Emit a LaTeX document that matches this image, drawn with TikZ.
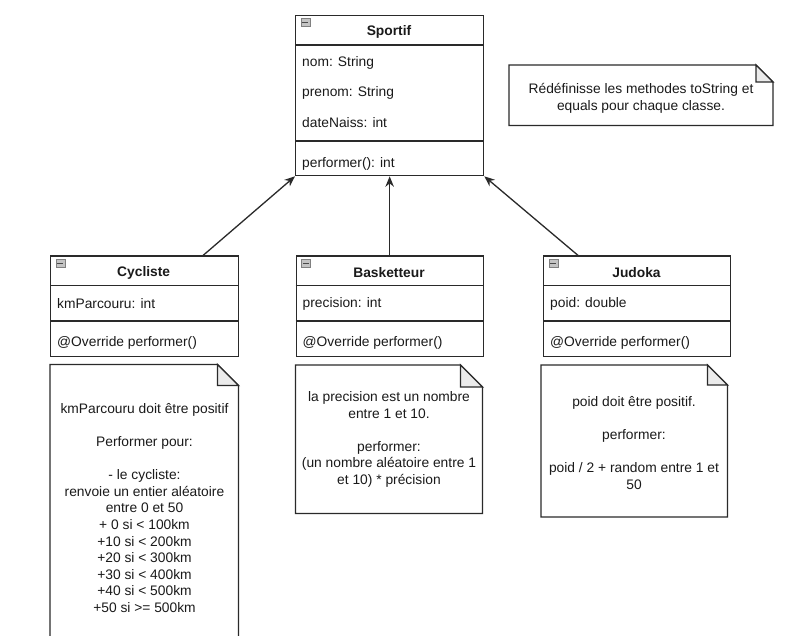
\documentclass[tikz,border=0pt]{standalone}
\usepackage{fontspec}
\setmainfont{Liberation Sans}
\usetikzlibrary{arrows.meta,calc}
\definecolor{linec}{HTML}{2A2A2A}
\definecolor{txtc}{HTML}{1A1A1A}
\definecolor{foldc}{HTML}{EBEBEB}
\definecolor{iconc}{HTML}{C4C4C4}
\tikzset{
  txt/.style={text=txtc, font=\fontsize{13.8}{16.6}\selectfont, inner sep=0pt},
  ttl/.style={text=txtc, font=\fontsize{13.8}{16.6}\selectfont\bfseries, inner sep=0pt},
  ntxt/.style={text=txtc, font=\fontsize{13.8}{16.6}\selectfont, inner sep=0pt, align=center},
  classbox/.style={draw=linec, line width=1.3pt, fill=white, anchor=north west, inner sep=0pt},
  sepline/.style={draw=linec, line width=1.3pt},
  noteline/.style={draw=linec, line width=1.3pt},
  icon/.style={draw=gray, fill=iconc, line width=0.7pt, minimum width=9pt, minimum height=8pt, anchor=north west, inner sep=0pt},
  iconbar/.style={draw=linec!85, line width=1.1pt},
  inherit/.style={draw=linec, line width=1.3pt, -{Stealth[length=10.5pt,width=8.5pt]}}
}
\newcommand{\mynote}[5]{%
  \draw[noteline, fill=white] (#1,#2) -- (#3-#5,#2) -- (#3,#2+#5) -- (#3,#4) -- (#1,#4) -- cycle;
  \draw[noteline, fill=foldc] (#3-#5,#2) -- (#3-#5,#2+#5) -- (#3,#2+#5) -- cycle;
}
\begin{document}
\begin{tikzpicture}[x=1pt,y=-1pt]
\useasboundingbox (0,0) rectangle (800,636);
\fill[white] (0,0) rectangle (800,636);
\clip (0,0) rectangle (800,636);

% ---------- Sportif ----------
\node[classbox, minimum width=188pt, minimum height=160pt] (sportif) at (295,15) {};
\draw[sepline] ($(sportif.north west)+(0,30)$) -- ($(sportif.north east)+(0,30)$);
\draw[sepline] ($(sportif.north west)+(0,126)$) -- ($(sportif.north east)+(0,126)$);
\node[icon] (icS) at (300.5,18.5) {};
\draw[iconbar] ([xshift=1.8pt]icS.west) -- ([xshift=-1.8pt]icS.east);
\node[ttl] (tS) at (389,32) {Sportif};
\node[txt, anchor=west] (aS1) at (302,63) {nom: String};
\node[txt, anchor=west] (aS2) at (302,93) {prenom: String};
\node[txt, anchor=west] (aS3) at (302,123) {dateNaiss: int};
\node[txt, anchor=west] (mS1) at (302,163.5) {performer(): int};

% ---------- Cycliste ----------
\node[classbox, minimum width=187.5pt, minimum height=100.5pt] (cyc) at (50,255.5) {};
\draw[sepline] ($(cyc.north west)+(0,30)$) -- ($(cyc.north east)+(0,30)$);
\draw[sepline] ($(cyc.north west)+(0,65.5)$) -- ($(cyc.north east)+(0,65.5)$);
\node[icon] (icC) at (55.5,259.5) {};
\draw[iconbar] ([xshift=1.8pt]icC.west) -- ([xshift=-1.8pt]icC.east);
\node[ttl] (tC) at (143.7,272.5) {Cycliste};
\node[txt, anchor=west] (aC1) at (57,304) {kmParcouru: int};
\node[txt, anchor=west] (mC1) at (57,343) {@Override performer()};

% ---------- Basketteur ----------
\node[classbox, minimum width=187pt, minimum height=100.5pt] (bask) at (295.5,255.5) {};
\draw[sepline] ($(bask.north west)+(0,30)$) -- ($(bask.north east)+(0,30)$);
\draw[sepline] ($(bask.north west)+(0,65.5)$) -- ($(bask.north east)+(0,65.5)$);
\node[icon] (icB) at (301,259.5) {};
\draw[iconbar] ([xshift=1.8pt]icB.west) -- ([xshift=-1.8pt]icB.east);
\node[ttl] (tB) at (389,272.5) {Basketteur};
\node[txt, anchor=west] (aB1) at (302.5,304) {precision: int};
\node[txt, anchor=west] (mB1) at (302.5,343) {@Override performer()};

% ---------- Judoka ----------
\node[classbox, minimum width=187pt, minimum height=100.5pt] (judo) at (543,255.5) {};
\draw[sepline] ($(judo.north west)+(0,30)$) -- ($(judo.north east)+(0,30)$);
\draw[sepline] ($(judo.north west)+(0,65.5)$) -- ($(judo.north east)+(0,65.5)$);
\node[icon] (icJ) at (548.5,259.5) {};
\draw[iconbar] ([xshift=1.8pt]icJ.west) -- ([xshift=-1.8pt]icJ.east);
\node[ttl] (tJ) at (636.5,272.5) {Judoka};
\node[txt, anchor=west] (aJ1) at (550,304) {poid: double};
\node[txt, anchor=west] (mJ1) at (550,343) {@Override performer()};

% ---------- Inheritance arrows ----------
\draw[inherit] ([xshift=58.6pt]cyc.north) -- (sportif.south west);
\draw[inherit] (bask.north) -- (sportif.south);
\draw[inherit] ([xshift=-59pt]judo.north) -- (sportif.south east);

% ---------- Notes ----------
\mynote{509}{65}{773}{125.5}{17}
\node[ntxt] (nTop) at (641,98.5) {Rédéfinisse les methodes toString et\\equals pour chaque classe.};

\mynote{50}{364.5}{238.5}{660}{21}
\node[ntxt] (nC) at (144.5,508) {kmParcouru doit être positif\\[16.6pt]Performer pour:\\[16.6pt]- le cycliste:\\renvoie un entier aléatoire\\entre 0 et 50\\+ 0 si < 100km\\+10 si < 200km\\+20 si < 300km\\+30 si < 400km\\+40 si < 500km\\+50 si >= 500km};

\mynote{295.5}{365}{482.5}{513.5}{22}
\node[ntxt] (nB) at (389,439.5) {la precision est un nombre\\entre 1 et 10.\\[16.6pt]performer:\\(un nombre aléatoire entre 1\\et 10) * précision};

\mynote{541}{365}{727.5}{517}{20}
\node[ntxt] (nJ) at (634,443) {poid doit être positif.\\[16.6pt]performer:\\[16.6pt]poid / 2 + random entre 1 et\\50};
\end{tikzpicture}
\end{document}
